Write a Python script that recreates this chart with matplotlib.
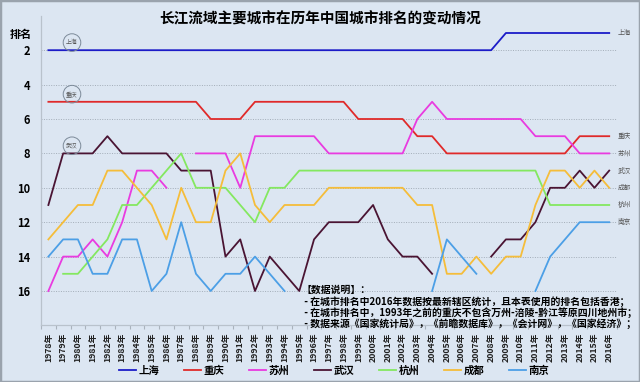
import numpy as np
import matplotlib
matplotlib.use("Agg")
import matplotlib.pyplot as plt
from matplotlib.patches import Rectangle

plt.rcParams['font.family'] = ['Noto Sans CJK SC', 'DejaVu Sans']

nan = np.nan
years = list(range(1978, 2017))

shanghai = [2, 2, 2, 2, 2, 2, 2, 2, 2, 2, 2, 2, 2, 2, 2, 2, 2, 2, 2, 2,
            2, 2, 2, 2, 2, 2, 2, 2, 2, 2, 2, 1, 1, 1, 1, 1, 1, 1, 1]
chongqing = [5, 5, 5, 5, 5, 5, 5, 5, 5, 5, 5, 6, 6, 6, 5, 5, 5, 5, 5, 5,
             5, 6, 6, 6, 6, 7, 7, 8, 8, 8, 8, 8, 8, 8, 8, 8, 7, 7, 7]
suzhou = [16, 14, 14, 13, 14, 12, 9, 9, 10, nan, 8, 8, 8, 10, 7, 7, 7, 7, 7, 8,
          8, 8, 8, 8, 8, 6, 5, 6, 6, 6, 6, 6, 6, 7, 7, 7, 8, 8, 8]
wuhan = [11, 8, 8, 8, 7, 8, 8, 8, 8, 9, 9, 9, 14, 13, 16, 14, 15, 16, 13, 12,
         12, 12, 11, 13, 14, 14, 15, nan, nan, nan, 14, 13, 13, 12, 10, 10, 9, 10, 9]
hangzhou = [nan, 15, 15, 14, 13, 11, 11, 10, 9, 8, 10, 10, 10, 11, 12, 10, 10, 9, 9, 9,
            9, 9, 9, 9, 9, 9, 9, 9, 9, 9, 9, 9, 9, 9, 11, 11, 11, 11, 11]
chengdu = [13, 12, 11, 11, 9, 9, 10, 11, 13, 10, 12, 12, 9, 8, 11, 12, 11, 11, 11, 10,
           10, 10, 10, 10, 10, 11, 11, 15, 15, 14, 15, 14, 14, 11, 9, 9, 10, 9, 10]
nanjing = [14, 13, 13, 15, 15, 13, 13, 16, 15, 12, 15, 16, 15, 15, 14, 15, 16, nan, nan, nan,
           nan, nan, nan, nan, nan, nan, 16, 13, 14, 15, nan, nan, nan, 16, 14, 13, 12, 12, 12]

cities = ['上海', '重庆', '苏州', '武汉', '杭州', '成都', '南京']
series = [shanghai, chongqing, suzhou, wuhan, hangzhou, chengdu, nanjing]
colors = ['#1c1cc8', '#e02a2a', '#e93be0', '#4a1433', '#84e860', '#f5bd3a', '#4c9fe6']

circled = ['上海', '重庆', '武汉']
y_ticks = [2, 4, 6, 8, 10, 12, 14, 16]

title = '长江流域主要城市在历年中国城市排名的变动情况'
notes = ['【数据说明】：',
         ' - 在城市排名中2016年数据按最新辖区统计，且本表使用的排名包括香港；',
         ' - 在城市排名中，1993年之前的重庆不包含万州-涪陵-黔江等原四川地州市；',
         ' - 数据来源《国家统计局》，《前瞻数据库》，《会计网》，《国家经济》；']

bg = '#dce6f2'
W, H = 640, 382
fig = plt.figure(figsize=(6.4, 3.82), dpi=100, facecolor=bg)
ax = fig.add_axes([41 / W, 1 - 325.4 / H, 575.6 / W, 309.6 / H])
ax.set_facecolor(bg)

for name, vals, c in zip(cities, series, colors):
    ax.plot(years, vals, color=c, lw=1.3, label=name)

ax.set_xlim(1977.5, 2016.5)
ax.set_ylim(18, 0)

# category boundaries as tick marks, labels in the middle
ax.set_xticks(np.arange(1977.5, 2017, 1.0))
ax.set_xticklabels([])
ax.set_xticks(years, minor=True)
ax.set_xticklabels([f'{y}年' for y in years], minor=True, rotation=90,
                   fontsize=6.3, fontweight='bold', color='#222222')
ax.tick_params(axis='x', which='major', length=3, color='#a9b2bc')
ax.tick_params(axis='x', which='minor', length=0, pad=5)

ax.set_yticks(y_ticks)
ax.set_yticklabels([str(t) for t in y_ticks], fontsize=8, fontweight='bold')
ax.tick_params(axis='y', length=0, pad=8)
ax.yaxis.grid(True, linestyle=(0, (1, 1.5)), color='#a3adb8', lw=0.7)

for s in ['top', 'right']:
    ax.spines[s].set_visible(False)
for s in ['left', 'bottom']:
    ax.spines[s].set_color('#b9c2cc')
    ax.spines[s].set_linewidth(0.9)

ax.text(-0.015, 0.94, '排名', transform=ax.transAxes, ha='right', va='center',
        fontsize=8, fontweight='bold')

# circled name tags above the lines
for name, vals in zip(cities, series):
    if name in circled:
        ax.annotate(name, xy=(1979.6, vals[1]), xytext=(0, 5.5), textcoords='offset points',
                    ha='center', va='center', fontsize=4.2, color='#555555',
                    bbox=dict(boxstyle='circle,pad=0.5', fc='none', ec='#7c8a99', lw=0.7))

# end labels
for name, vals in zip(cities, series):
    ax.annotate(name, xy=(years[-1], vals[-1]), xytext=(6, 0), textcoords='offset points',
                ha='left', va='center', fontsize=4.8, color='#555555')

fig.text(0.5, 1 - 18 / H, title, ha='center', va='center', fontsize=10.5, fontweight='bold')

for i, line in enumerate(notes):
    fig.text(302 / W, 1 - (290 + 11.2 * i) / H, line, ha='left', va='center',
             fontsize=7.1, fontweight='bold')

fig.legend(loc='center', bbox_to_anchor=(0.522, 1 - 370.5 / H), ncol=7, frameon=False,
           prop={'size': 7.5, 'weight': 'bold'}, handlelength=1.6, handletextpad=0.25,
           columnspacing=2.4)

fig.patches.append(Rectangle((0, 0), 1, 1, transform=fig.transFigure, fill=False,
                             ec='#9aa3ad', lw=2.5))

fig.savefig('out.png', dpi=100, facecolor=bg)
